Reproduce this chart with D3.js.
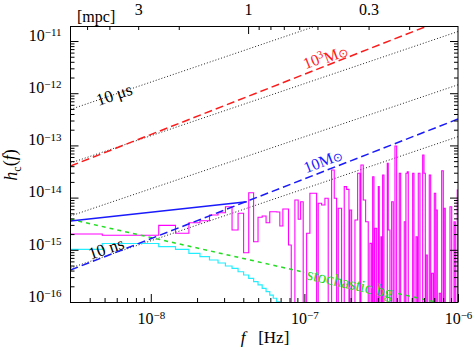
<!DOCTYPE html>
<html><head><meta charset="utf-8">
<script src="https://cdn.jsdelivr.net/npm/d3@7"></script>
<style>body{margin:0;background:#fff}</style>
</head><body>
<svg id="chart" width="474" height="351" font-family="Liberation Serif"></svg>
<script>
// ---------------- data ----------------
const fDomain = [3e-9, 1e-6];          // Hz
const hDomain = [1e-16, 1.94e-11];

// dotted timing-residual lines: h at 3e-9 Hz and at 1e-6 Hz
const residNames = ["10 \u03bcs", "1 \u03bcs", "100 ns", "10 ns"];
const residLo = [4.9e-13, 4.6e-14, 4.45e-15, 4.48e-16];
const residHi = [1.63e-10, 1.52e-11, 1.45e-12, 1.47e-13];

// dashed binary-source lines: h at 3e-9 Hz and at 1e-6 Hz
const srcMass = ["10^3", "10"];
const srcLo = [4.03e-14, 4.1e-16];
const srcHi = [3.3e-11, 3.2e-13];

// stochastic background (green)
const bgF = [3e-9, 1e-6];
const bgH = [3.84e-15, 7.98e-17];

// solid blue limit
const limF = [3e-9, 4.22e-8];
const limH = [3.56e-15, 8.34e-15];

// frequency bin edges (Hz)
const binEdges = [1.61e-9, 4.83e-9, 8.05e-9, 1.126e-8, 1.448e-8, 1.77e-8, 2.09e-8, 2.41e-8, 2.74e-8,
  3.06e-8, 3.38e-8, 3.70e-8, 4.02e-8, 4.34e-8, 4.67e-8, 4.99e-8, 5.31e-8, 5.63e-8, 5.95e-8,
  6.27e-8, 6.60e-8, 6.92e-8, 7.24e-8, 7.56e-8, 7.88e-8, 8.21e-8];
// magenta noise curve, low-frequency bins
const noiseLow = [2.01e-15, 1.90e-15, 1.90e-15, 2.94e-15, 2.07e-15, 3.30e-15, 3.61e-15, 4.64e-15,
  5.14e-15, 6.69e-15, 2.39e-15, 5.0e-15, 8.8e-16, 1.24e-14, 1.43e-15, 4.2e-15, 4.44e-15, 3.30e-15,
  5.37e-15, 5.37e-15, 5.3e-15, 2.86e-15, 6.05e-15, 6.05e-15, 1.24e-15];
// magenta noise curve, high-frequency spikes
const spikeStart = [8.67e-8, 9.11e-8, 9.45e-8, 1.034e-7, 1.086e-7, 1.230e-7, 1.295e-7, 1.360e-7,
  1.504e-7, 1.564e-7, 1.661e-7, 1.817e-7, 1.883e-7, 1.979e-7, 2.133e-7, 2.221e-7, 2.334e-7,
  2.416e-7, 2.504e-7, 2.671e-7, 2.782e-7, 2.880e-7, 3.026e-7, 3.150e-7, 3.231e-7, 3.463e-7,
  3.515e-7, 3.699e-7, 3.887e-7, 4.145e-7, 4.468e-7, 4.583e-7, 4.674e-7, 5.068e-7, 5.326e-7,
  5.513e-7, 5.888e-7, 6.005e-7, 6.188e-7, 6.50e-7, 6.74e-7, 7.01e-7, 7.19e-7, 7.55e-7, 7.83e-7,
  8.10e-7, 8.87e-7, 9.42e-7, 9.89e-7];
const spikeEnd = [9.11e-8, 9.45e-8, 9.82e-8, 1.086e-7, 1.201e-7, 1.295e-7, 1.360e-7, 1.429e-7,
  1.564e-7, 1.621e-7, 1.747e-7, 1.883e-7, 1.950e-7, 2.030e-7, 2.221e-7, 2.299e-7, 2.416e-7,
  2.504e-7, 2.604e-7, 2.740e-7, 2.837e-7, 2.954e-7, 3.071e-7, 3.198e-7, 3.295e-7, 3.515e-7,
  3.606e-7, 3.789e-7, 3.987e-7, 4.233e-7, 4.563e-7, 4.674e-7, 4.745e-7, 5.168e-7, 5.431e-7,
  5.655e-7, 6.005e-7, 6.124e-7, 6.31e-7, 6.64e-7, 6.90e-7, 7.16e-7, 7.33e-7, 7.72e-7, 8.02e-7,
  8.26e-7, 9.10e-7, 9.60e-7, 1.01e-6];
const spikeH = [9.0e-15, 3.84e-15, 8.34e-15, 2.07e-15, 1.21e-14, 7.78e-15, 7.22e-15, 9.7e-15,
  3.38e-14, 9.7e-15, 6.24e-15, 1.62e-14, 1.44e-14, 5.79e-15, 3.72e-15, 2.92e-14, 4.21e-14,
  9.0e-15, 3.45e-15, 1.33e-15, 2.51e-14, 2.58e-15, 1.62e-14, 1.78e-15, 2.71e-14, 4.54e-14,
  2.39e-15, 8.34e-15, 9.74e-14, 2.92e-14, 3.45e-15, 2.92e-14, 3.13e-14, 2.92e-14, 1.78e-15,
  2.92e-14, 6.55e-14, 2.92e-14, 7.95e-16, 2.71e-14, 3.55e-16, 1.21e-14, 5.79e-15, 1.47e-16,
  3.27e-14, 6.24e-15, 6.69e-15, 3.45e-15, 1.40e-14];
const noiseFloor = 1e-17;
// cyan curve
const cyanVals = [1.02e-15, 1.32e-15, 1.32e-15, 1.15e-15, 1.02e-15, 8.57e-16, 7.38e-16, 6.38e-16,
  5.59e-16, 4.9e-16, 4.42e-16, 3.80e-16, 3.29e-16, 2.84e-16, 2.45e-16, 2.12e-16, 1.83e-16,
  1.58e-16, 1.36e-16, 1.18e-16, 1.01e-16, 8e-17];

// top axis: orbital separation in mpc, f = fAt1mpc * a^-1.5
const fAt1mpc = 4.3e-8;
const mpcTicks = [5, 4, 3, 2, 1, 0.9, 0.8, 0.7, 0.6, 0.5, 0.4, 0.3, 0.2];
const mpcLabels = [3, 1, 0.3];
const xMajor = [1e-8, 1e-7, 1e-6];
const yMajor = [1e-16, 1e-15, 1e-14, 1e-13, 1e-12, 1e-11];

// ---------------- drawing ----------------
const FONT = "Liberation Serif";
const L = 70.5, R = 458, T = 26, B = 302;
const svg = d3.select("#chart");
const x = d3.scaleLog().domain(fDomain).range([L, R]);
const y = d3.scaleLog().domain(hDomain).range([B, T]);

svg.append("defs").append("clipPath").attr("id", "clip")
  .append("rect").attr("x", L).attr("y", T).attr("width", R - L).attr("height", B - T);

const minors = (lo, hi) => {
  const out = [];
  for (let e = Math.floor(Math.log10(lo)); e <= Math.ceil(Math.log10(hi)); e++)
    for (let m = 2; m <= 9; m++) { const v = m * Math.pow(10, e); if (v > lo * 1.001 && v < hi * 0.999) out.push(v); }
  return out;
};

const g = svg.append("g").attr("clip-path", "url(#clip)");
const line = d3.line().x(d => x(d[0])).y(d => y(d[1]));
const stepLine = d3.line().x(d => x(d[0])).y(d => y(d[1])).curve(d3.curveStepAfter);

// dotted residual lines
residLo.forEach((lo, i) => {
  g.append("path").attr("d", line([[fDomain[0], lo], [fDomain[1], residHi[i]]]))
    .attr("fill", "none").attr("stroke", "#222").attr("stroke-width", 1).attr("stroke-dasharray", "1,2");
});

// cyan
const cyanPts = cyanVals.map((v, i) => [binEdges[i], v]);
cyanPts.push([binEdges[cyanVals.length], cyanVals[cyanVals.length - 1]]);
g.append("path").attr("d", stepLine(cyanPts)).attr("fill", "none").attr("stroke", "#22eeff").attr("stroke-width", 1.2);

// magenta
const mag = noiseLow.map((v, i) => [binEdges[i], v]);
let lastEnd = binEdges[noiseLow.length];
mag.push([lastEnd, noiseFloor]);
spikeStart.forEach((s, i) => {
  if (s > lastEnd * 1.0001) mag.push([s, spikeH[i]]);
  else mag[mag.length - 1] = [s, spikeH[i]];
  mag.push([spikeEnd[i], noiseFloor]);
  lastEnd = spikeEnd[i];
});
g.append("path").attr("d", stepLine(mag)).attr("fill", "none").attr("stroke", "#ff00ff").attr("stroke-width", 1.1);

// green stochastic background (masked under its label)
const mask = svg.select("defs").append("mask").attr("id", "bgmask");
mask.append("rect").attr("x", 0).attr("y", 0).attr("width", 474).attr("height", 351).attr("fill", "#fff");
g.append("path").attr("d", line(bgF.map((f, i) => [f, bgH[i]])))
  .attr("fill", "none").attr("stroke", "#22dd22").attr("stroke-width", 1.5).attr("stroke-dasharray", "4,4")
  .attr("mask", "url(#bgmask)");

// blue solid
g.append("path").attr("d", line(limF.map((f, i) => [f, limH[i]])))
  .attr("fill", "none").attr("stroke", "#1a1aff").attr("stroke-width", 1.5);

// dashed sources
const srcCol = ["#ff1a1a", "#1a1aff"];
srcLo.forEach((lo, i) => {
  g.append("path").attr("d", line([[fDomain[0], lo], [fDomain[1], srcHi[i]]]))
    .attr("fill", "none").attr("stroke", srcCol[i]).attr("stroke-width", 1.5).attr("stroke-dasharray", "8,4");
});

// ---------------- axes ----------------
function pow10Label(sel) {
  sel.each(function (d) {
    const t = d3.select(this); const e = Math.round(Math.log10(d));
    t.text(null);
    t.append("tspan").text("10");
    t.append("tspan").attr("dy", "-0.42em").attr("font-size", "11px").text("\u2212" + Math.abs(e));
  });
}
const ax = svg.append("g");
// left
ax.append("g").attr("transform", `translate(${L},0)`)
  .call(d3.axisLeft(y).tickValues(minors(hDomain[0], hDomain[1])).tickSize(-4).tickFormat(""));
const yl = ax.append("g").attr("transform", `translate(${L},0)`)
  .call(d3.axisLeft(y).tickValues(yMajor).tickSize(-8).tickPadding(9));
yl.selectAll("text").attr("font-size", "16px").attr("dy", "-0.05em").call(pow10Label);
// right
ax.append("g").attr("transform", `translate(${R},0)`)
  .call(d3.axisRight(y).tickValues(minors(hDomain[0], hDomain[1])).tickSize(-4).tickFormat(""));
ax.append("g").attr("transform", `translate(${R},0)`)
  .call(d3.axisRight(y).tickValues(yMajor).tickSize(-8).tickFormat(""));
// bottom
ax.append("g").attr("transform", `translate(0,${B})`)
  .call(d3.axisBottom(x).tickValues(minors(fDomain[0], fDomain[1])).tickSize(-4).tickFormat(""));
const xl = ax.append("g").attr("transform", `translate(0,${B})`)
  .call(d3.axisBottom(x).tickValues(xMajor).tickSize(-8));
xl.selectAll("text").attr("font-size", "16px").attr("y", 22).attr("dy", 0).call(pow10Label);
// top (mpc)
const aDomain = fDomain.map(f => Math.pow(f / fAt1mpc, -2 / 3));
const xTop = d3.scaleLog().domain(aDomain).range([L, R]);
ax.append("g").attr("transform", `translate(0,${T})`)
  .call(d3.axisTop(xTop).tickValues(mpcTicks.filter(a => a !== 1)).tickSize(-4).tickFormat(""));
ax.append("g").attr("transform", `translate(0,${T})`)
  .call(d3.axisTop(xTop).tickValues([1]).tickSize(-8).tickFormat(""));
const xtl = ax.append("g").attr("transform", `translate(0,${T})`)
  .call(d3.axisTop(xTop).tickValues(mpcLabels).tickSize(0).tickFormat(d3.format("")));
xtl.select(".domain").remove();
xtl.selectAll("text").attr("font-size", "16px").attr("y", -11.5).attr("dy", 0);
ax.selectAll(".domain").attr("stroke", "none");
ax.selectAll(".tick line").attr("stroke", "#000");
ax.selectAll("g").attr("font-family", FONT);
ax.selectAll("text").attr("font-family", FONT);

// frame
svg.append("rect").attr("x", L).attr("y", T + 0.5).attr("width", R - L).attr("height", B - T)
  .attr("fill", "none").attr("stroke", "#000").attr("stroke-width", 1);

// ---------------- labels ----------------
svg.append("text").attr("x", 77).attr("y", 22).attr("font-size", "16px").attr("font-family", FONT).text("[mpc]");

const xlab = svg.append("text").attr("x", 265).attr("y", 343).attr("text-anchor", "middle").attr("font-size", "17px").attr("font-family", FONT);
xlab.append("tspan").attr("font-style", "italic").text("f");
xlab.append("tspan").text("\u2002 [Hz]");

const ylab = svg.append("text").attr("transform", "translate(17,165) rotate(-90)").attr("text-anchor", "middle").attr("font-size", "18px").attr("font-family", FONT);
ylab.append("tspan").attr("font-style", "italic").text("h");
ylab.append("tspan").attr("font-size", "12px").attr("dy", "0.3em").text("c");
ylab.append("tspan").attr("dy", "-0.25em").text("(");
ylab.append("tspan").attr("font-style", "italic").text("f");
ylab.append("tspan").text(")");

function ann(txt, cx, cy, ang, col) {
  return svg.append("text").attr("transform", `translate(${cx},${cy}) rotate(${ang})`)
    .attr("text-anchor", "middle").attr("font-size", "17px").attr("font-family", FONT).attr("fill", col).text(txt);
}
ann(residNames[0], 116, 100, -18.8, "#000");
ann(residNames[3], 108, 254, -18.8, "#000");

function massLabel(exp, cx, cy, col) {
  const t = svg.append("text").attr("transform", `translate(${cx},${cy}) rotate(-21.4)`)
    .attr("text-anchor", "middle").attr("font-size", "16px").attr("font-family", FONT).attr("fill", col);
  const parts = exp.split("^");
  t.append("tspan").text(parts[0]);
  if (parts[1]) t.append("tspan").attr("dy", "-0.45em").attr("font-size", "11px").text(parts[1]);
  t.append("tspan").attr("dy", parts[1] ? "0.45em" : 0).text("M");
  t.append("tspan").attr("font-size", "12px").attr("font-family", "DejaVu Sans").attr("dy", "0.05em").text("\u2299");
}
massLabel(srcMass[0], 327, 61, "#ff1a1a");
massLabel(srcMass[1], 325, 166, "#1a1aff");

const bgText = svg.append("text").attr("transform", "translate(349,289) rotate(12.8)")
  .attr("text-anchor", "middle").attr("font-size", "17px").attr("font-family", FONT).attr("fill", "#22dd22").text("stochastic bg");
const bb = bgText.node().getBBox();
mask.append("rect").attr("transform", "translate(349,289) rotate(12.8)")
  .attr("x", bb.x - 3).attr("y", bb.y + 2).attr("width", bb.width + 6).attr("height", bb.height - 4).attr("fill", "#000");
</script>
</body></html>
